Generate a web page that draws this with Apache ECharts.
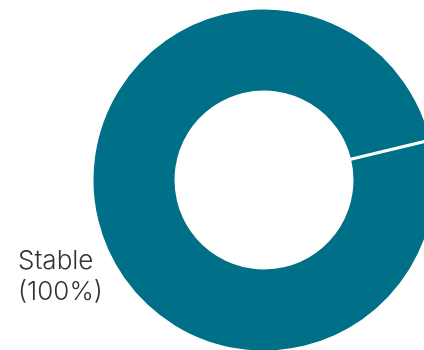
<!DOCTYPE html>
<html>
<head>
<meta charset="utf-8">
<style>
  html, body { margin: 0; padding: 0; background: #ffffff; }
  #chart { width: 424px; height: 350px; }
</style>
<script src="https://cdn.jsdelivr.net/npm/echarts@6/dist/echarts.min.js"></script>
</head>
<body>
<div id="chart"></div>
<script>
// Distribution of status categories
const categories = ['Stable', 'Other'];
const values = [100, 0];
const colors = ['#006f88', '#006f88'];

const chart = echarts.init(document.getElementById('chart'), null, { renderer: 'canvas' });

const data = categories.map((name, i) => ({
  name: name,
  value: values[i],
  itemStyle: { color: colors[i] },
  label: { show: values[i] > 0 }
}));

chart.setOption({
  animation: false,
  series: [{
    type: 'pie',
    center: [264, 180],
    radius: [88, 172],
    startAngle: 13.5,
    clockwise: true,
    avoidLabelOverlap: false,
    itemStyle: { borderColor: '#ffffff', borderWidth: 3 },
    label: {
      position: 'outside',
      formatter: '{b}\n({d}%)',
      fontFamily: 'Inter',
      fontWeight: 300,
      fontSize: 26,
      lineHeight: 31,
      color: '#333333'
    },
    labelLine: { show: false },
    labelLayout: function () {
      return { x: 18, y: 277, align: 'left', verticalAlign: 'middle' };
    },
    data: data
  }]
});
</script>
</body>
</html>
